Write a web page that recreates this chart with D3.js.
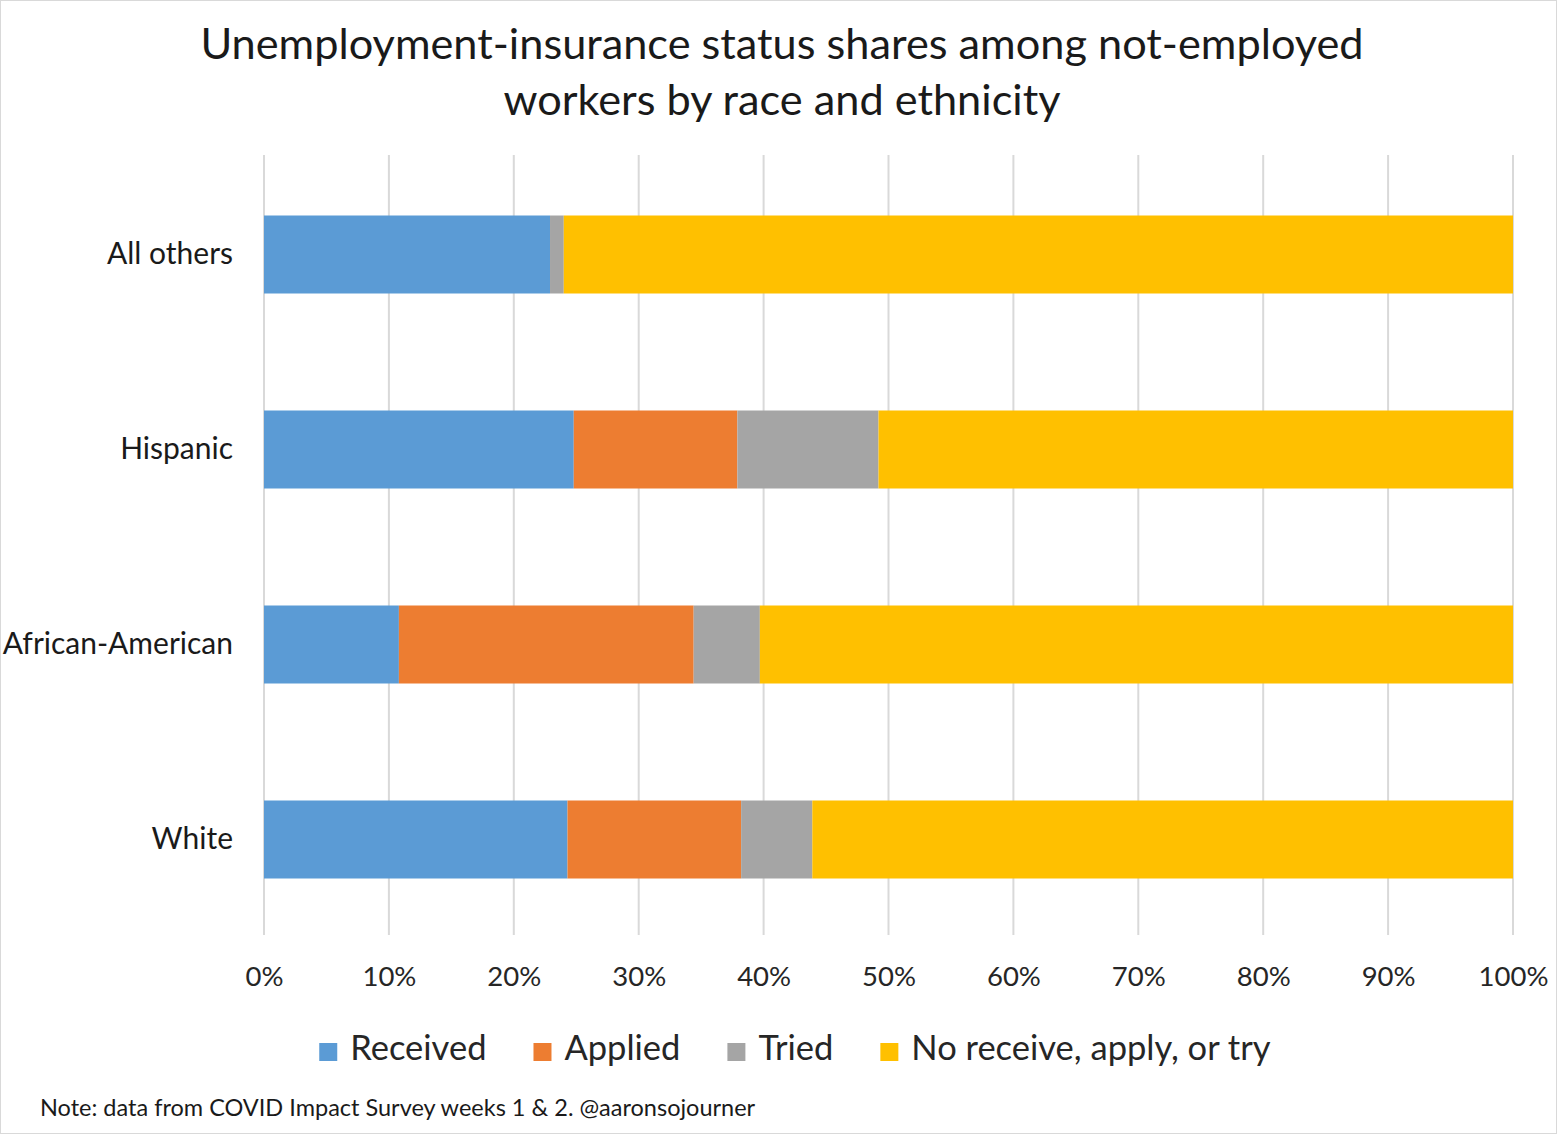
<!DOCTYPE html>
<html>
<head>
<meta charset="utf-8">
<script src="https://cdn.jsdelivr.net/npm/d3@7"></script>
<style>
  html, body { margin: 0; padding: 0; background: #fff; }
  svg { display: block; font-family: Lato, "Open Sans", sans-serif; }
</style>
</head>
<body>
<svg id="chart" width="1557" height="1134"></svg>
<script>
// Groups, top to bottom
const categories = ["All others", "Hispanic", "African-American", "White"];

// Stacked shares (percent of not-employed workers)
const received = [22.9, 24.8, 10.8, 24.3];
const applied  = [0.0, 13.1, 23.6, 13.9];
const tried    = [1.1, 11.3, 5.3, 5.7];
const noneOf   = [76.0, 50.8, 60.3, 56.1];

const seriesNames  = ["Received", "Applied", "Tried", "No receive, apply, or try"];
const seriesColors = ["#5B9BD5", "#ED7D31", "#A5A5A5", "#FFC000"];
const tickValues   = [0, 10, 20, 30, 40, 50, 60, 70, 80, 90, 100];

const titleLines = ["Unemployment-insurance status shares among not-employed",
                    "workers by race and ethnicity"];
const noteText = "Note: data from COVID Impact Survey weeks 1 & 2. @aaronsojourner";

const W = 1557, H = 1134;
const margin = { left: 264, right: 44, top: 155, bottom: 199 };

const svg = d3.select("#chart");

// outer frame
svg.append("rect")
  .attr("x", 0.5).attr("y", 0.5)
  .attr("width", W - 1).attr("height", H - 1)
  .attr("fill", "#fff").attr("stroke", "#d9d9d9");

const rows = categories.map((c, i) => ({
  category: c,
  "Received": received[i],
  "Applied": applied[i],
  "Tried": tried[i],
  "No receive, apply, or try": noneOf[i]
}));

const stacked = d3.stack().keys(seriesNames)(rows);

const x = d3.scaleLinear().domain([0, 100]).range([margin.left, W - margin.right]);
const y = d3.scaleBand().domain(categories)
  .range([margin.top + 2, H - margin.bottom + 2])
  .paddingInner(0.6).paddingOuter(0.3);

// vertical gridlines
svg.append("g")
  .selectAll("line")
  .data(tickValues)
  .join("line")
  .attr("x1", d => x(d)).attr("x2", d => x(d))
  .attr("y1", margin.top).attr("y2", H - margin.bottom)
  .attr("stroke", "#d9d9d9").attr("stroke-width", 2);

// stacked bars
svg.append("g")
  .selectAll("g")
  .data(stacked)
  .join("g")
  .attr("fill", (d, i) => seriesColors[i])
  .selectAll("rect")
  .data(d => d)
  .join("rect")
  .attr("x", d => x(d[0]))
  .attr("width", d => x(d[1]) - x(d[0]))
  .attr("y", d => y(d.data.category))
  .attr("height", y.bandwidth());

// x axis labels
const xAxis = d3.axisBottom(x).tickValues(tickValues).tickFormat(d => d + "%").tickSize(0).tickPadding(0);
const gx = svg.append("g")
  .attr("transform", `translate(0,${H - margin.bottom})`)
  .call(xAxis);
gx.select(".domain").remove();
gx.selectAll("text")
  .attr("dy", null)
  .attr("y", 51)
  .attr("font-family", "Lato, sans-serif")
  .attr("font-size", 27.5)
  .attr("fill", "#262626");

// y axis labels
const yAxis = d3.axisLeft(y).tickSize(0).tickPadding(31);
const gy = svg.append("g")
  .attr("transform", `translate(${margin.left},0)`)
  .call(yAxis);
gy.select(".domain").remove();
gy.selectAll("text")
  .attr("font-family", "Lato, sans-serif")
  .attr("font-size", 30)
  .attr("fill", "#1a1a1a");

// title
svg.append("g")
  .selectAll("text")
  .data(titleLines)
  .join("text")
  .attr("x", 782)
  .attr("y", (d, i) => 59 + i * 56)
  .attr("text-anchor", "middle")
  .attr("font-size", 43.3)
  .attr("fill", "#1a1a1a")
  .text(d => d);

// legend
const legend = svg.append("g");
const items = legend.selectAll("g")
  .data(seriesNames)
  .join("g");
items.append("rect")
  .attr("width", 18).attr("height", 18)
  .attr("y", -17)
  .attr("fill", (d, i) => seriesColors[i]);
items.append("text")
  .attr("x", 31)
  .attr("font-size", 34.5)
  .attr("fill", "#262626")
  .text(d => d);
let cx = 0;
items.each(function () {
  const w = this.getBBox().width;
  d3.select(this).attr("data-off", cx);
  cx += w + 47;
});
const totalW = cx - 47;
const startX = 795 - totalW / 2;
items.attr("transform", function () {
  return `translate(${startX + (+this.getAttribute("data-off"))},1060)`;
});

// note
svg.append("text")
  .attr("x", 40).attr("y", 1116)
  .attr("font-size", 23.5)
  .attr("fill", "#1a1a1a")
  .text(noteText);
</script>
</body>
</html>
